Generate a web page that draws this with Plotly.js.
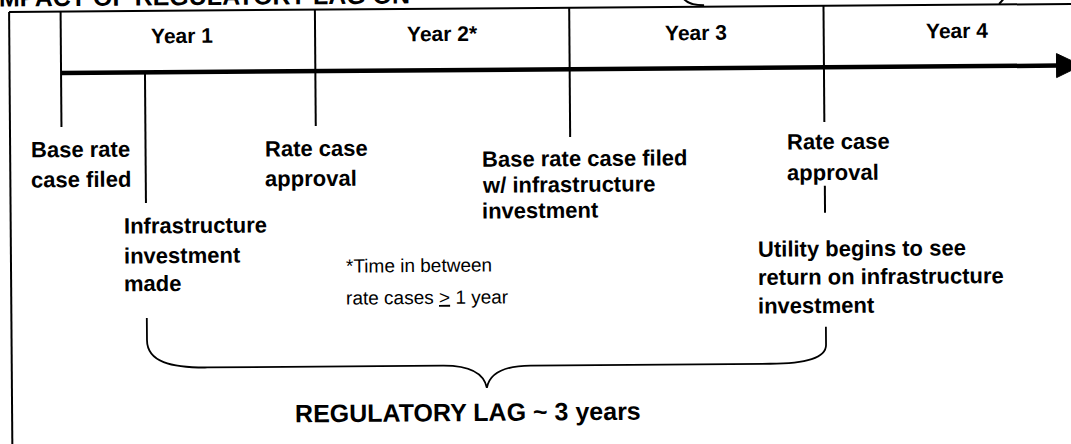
<!DOCTYPE html>
<html>
<head>
<meta charset="utf-8">
<script src="https://cdn.plot.ly/plotly-3.0.1.min.js"></script>
<style>
  html, body { margin: 0; padding: 0; background: #fff; overflow: hidden; }
  #chart { width: 1071px; height: 444px; }
</style>
</head>
<body>
<div id="chart"></div>
<script>
// ---------------- data ----------------
const titleText = 'IMPACT OF REGULATORY LAG ON';
const yearLabels = ['Year 1', 'Year 2*', 'Year 3', 'Year 4'];
const yearStarts = [0, 1, 2, 3];              // years from the first filing
const eventTimes = [0, 0.33, 1, 2, 3];        // years from the first filing
const eventLabels = [
  ['Base rate', 'case filed'],
  ['Infrastructure', 'investment', 'made'],
  ['Rate case', 'approval'],
  ['Base rate case filed', 'w/ infrastructure', 'investment'],
  ['Rate case', 'approval']
];
const outcomeLabel = ['Utility begins to see', 'return on infrastructure', 'investment'];
const noteLabel = ['*Time in between', 'rate cases <u>></u> 1 year'];
const lagLabel = 'REGULATORY LAG ~ 3 years';
const lagStartEvent = 1;   // index in eventTimes
const lagEndEvent = 4;

// ---------------- layout / style config ----------------
const W = 1071, H = 444;
const ORIGIN_PX = 60.5, PX_PER_YEAR = 254.3;
const SKEW = 0.0075;               // slight tilt of the scanned page
const FONT = '"Liberation Sans", Arial, Helvetica, sans-serif';
const BOX = { left: 9, top: 12 };
const AXIS_Y = 73.5, ARROW_TIP = 1081, ARROW_BASE = 1056, ARROW_HALF = 12;
const YEAR_LABEL_Y = 37.3, YEAR_LABEL_DX = [-6, 0, -1, 6];
// vertical tick extents per event (unrotated y)
const EVENT_TICKS = [
  [[BOX.top, 127.5]],
  [[AXIS_Y, 204]],
  [[BOX.top, 128.4]],
  [[BOX.top, 141.3]],
  [[BOX.top, 128.2], [192, 219]]
];
// label blocks: left edge (px) and centre y of each line (unrotated)
const EVENT_LABEL_POS = [
  { x: 28, ys: [150.2, 180.2] },
  { x: 120, ys: [225.9, 255.9, 283.9] },
  { x: 262, ys: [150.0, 180.0] },
  { x: 478.6, ys: [161.6, 187.6, 213.6] },
  { x: 784, ys: [146.9, 177.9] }
];
const OUTCOME_POS = { x: 754, ys: [253.7, 281.7, 310.7] };
const NOTE_POS = { x: 342, ys: [267.6, 299.6] };
const BRACE = { leftTop: 319, rightTop: 333, leftBottom: 341, rightBottom: 351, bar: 369, tip: 391.5 };
const LAG_LABEL_Y = 415.5;

// ---------------- helpers ----------------
const px2t = px => (px - ORIGIN_PX) / PX_PER_YEAR;
const t2px = t => ORIGIN_PX + t * PX_PER_YEAR;
// map an un-tilted point (px, y) to tilted data coordinates
function P(px, y) {
  return [px2t(px + SKEW * y), y - SKEW * px];
}
const TEXT_ANGLE = -SKEW * 180 / Math.PI;

function lineShape(px1, y1, px2, y2, w) {
  const a = P(px1, y1), b = P(px2, y2);
  return { type: 'line', xref: 'x', yref: 'y', x0: a[0], y0: a[1], x1: b[0], y1: b[1],
           line: { color: '#000', width: w } };
}
function pathStr(cmds) {
  return cmds.map(c => c[0] + ' ' + c.slice(1).reduce((acc, v, i, arr) => {
    if (i % 2 === 0) { const p = P(arr[i], arr[i + 1]); acc.push(p[0] + ',' + p[1]); }
    return acc;
  }, []).join(' ')).join(' ');
}
function textLine(px, y, text, size, bold, anchor) {
  const p = P(px, y);
  return { xref: 'x', yref: 'y', x: p[0], y: p[1], text: bold ? '<b>' + text + '</b>' : text,
           showarrow: false, xanchor: anchor || 'left', yanchor: 'middle', textangle: TEXT_ANGLE,
           font: { family: FONT, size: size, color: '#000' } };
}

// ---------------- shapes ----------------
const shapes = [];
// frame of the figure box
shapes.push(lineShape(BOX.left, BOX.top, W + 20, BOX.top, 2));
shapes.push(lineShape(BOX.left, BOX.top, BOX.left, H + 20, 2));
// timeline axis with arrow
shapes.push(lineShape(t2px(eventTimes[0]), AXIS_Y, ARROW_BASE + 2, AXIS_Y, 4.5));
shapes.push({ type: 'path', xref: 'x', yref: 'y', fillcolor: '#000', line: { color: '#000', width: 1 },
  path: pathStr([['M', ARROW_BASE, AXIS_Y - ARROW_HALF], ['L', ARROW_TIP, AXIS_Y],
                 ['L', ARROW_BASE, AXIS_Y + ARROW_HALF]]) + ' Z' });
// event ticks
eventTimes.forEach((t, i) => {
  EVENT_TICKS[i].forEach(seg => shapes.push(lineShape(t2px(t), seg[0], t2px(t), seg[1], 2)));
});
// brace under the lag
const bl = t2px(eventTimes[lagStartEvent]), br = t2px(eventTimes[lagEndEvent]);
const bm = (bl + br) / 2;
shapes.push({ type: 'path', xref: 'x', yref: 'y', line: { color: '#000', width: 1.8 },
  path: pathStr([
    ['M', bl, BRACE.leftTop], ['L', bl, BRACE.leftBottom],
    ['C', bl, BRACE.bar - 6, bl + 24, BRACE.bar, bl + 60, BRACE.bar],
    ['L', bm - 44, BRACE.bar],
    ['C', bm - 18, BRACE.bar, bm - 3, BRACE.bar + 7, bm, BRACE.tip],
    ['C', bm + 3, BRACE.bar + 7, bm + 18, BRACE.bar + 0.5, bm + 44, BRACE.bar + 0.5],
    ['L', br - 56, BRACE.bar + 0.5],
    ['C', br - 20, BRACE.bar + 0.5, br, BRACE.bar - 5, br, BRACE.rightBottom],
    ['L', br, BRACE.rightTop]
  ]) });
// bottoms of a parenthesis cut off by the page edge
shapes.push({ type: 'path', xref: 'x', yref: 'y', line: { color: '#000', width: 2 },
  path: pathStr([['M', 683, 3], ['Q', 688, 10.5, 704, 10.5]]) });
shapes.push({ type: 'path', xref: 'x', yref: 'y', line: { color: '#000', width: 2 },
  path: pathStr([['M', 999, 11.5], ['L', 1004, 6]]) });

// ---------------- annotations ----------------
const annotations = [];
// cut-off heading at the very top
annotations.push({ xref: 'paper', yref: 'paper', x: -10 / W, y: 1, xanchor: 'left', yanchor: 'bottom',
  yshift: -14, showarrow: false, text: '<b>' + titleText + '</b>', textangle: TEXT_ANGLE,
  font: { family: FONT, size: 25, color: '#000' } });
// year headers
yearLabels.forEach((lab, i) => {
  annotations.push(textLine(t2px(yearStarts[i] + 0.5) + YEAR_LABEL_DX[i], YEAR_LABEL_Y, lab, 21, true, 'center'));
});
// event labels
eventLabels.forEach((lines, i) => {
  lines.forEach((ln, j) => annotations.push(textLine(EVENT_LABEL_POS[i].x, EVENT_LABEL_POS[i].ys[j], ln, 22, true)));
});
outcomeLabel.forEach((ln, j) => annotations.push(textLine(OUTCOME_POS.x, OUTCOME_POS.ys[j], ln, 22, true)));
noteLabel.forEach((ln, j) => annotations.push(textLine(NOTE_POS.x, NOTE_POS.ys[j], ln, 19, false)));
annotations.push(textLine(bm - 19, LAG_LABEL_Y, lagLabel, 25, true, 'center'));

const layout = {
  width: W, height: H,
  margin: { l: 0, r: 0, t: 0, b: 0, pad: 0 },
  paper_bgcolor: '#fff', plot_bgcolor: '#fff',
  showlegend: false,
  xaxis: { range: [px2t(0), px2t(W)], visible: false, fixedrange: true },
  yaxis: { range: [H, 0], visible: false, fixedrange: true },
  shapes: shapes,
  annotations: annotations
};

Plotly.newPlot('chart', [{ x: [], y: [], type: 'scatter', mode: 'lines', hoverinfo: 'skip' }], layout,
  { staticPlot: true, displayModeBar: false });
</script>
</body>
</html>
